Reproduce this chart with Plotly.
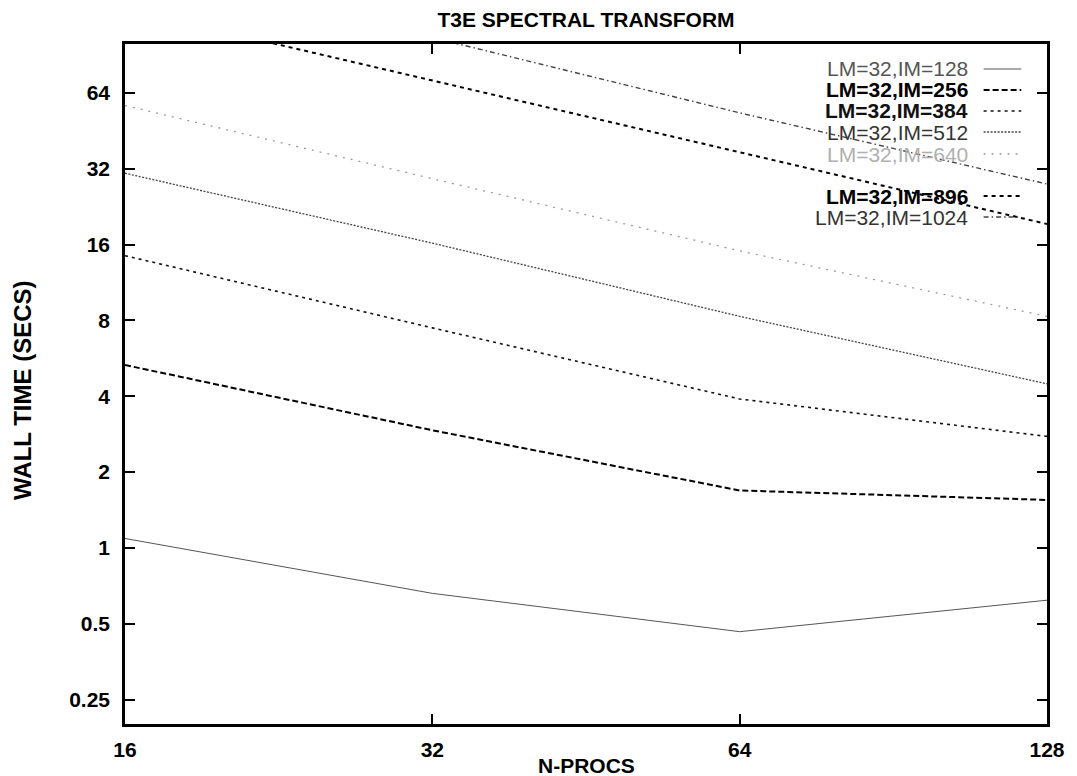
import math
import plotly.graph_objects as go

# Wall time (s) of the spectral transform on the T3E, LM=32, by processor count
nprocs = [16, 32, 64, 128]
series_names = ["LM=32,IM=128", "LM=32,IM=256", "LM=32,IM=384", "LM=32,IM=512",
                "LM=32,IM=640", "LM=32,IM=896", "LM=32,IM=1024"]
im128 = [1.09, 0.66, 0.465, 0.62]
im256 = [5.32, 2.93, 1.69, 1.55]
im384 = [14.45, 7.47, 3.9, 2.77]
im512 = [30.7, 16.2, 8.3, 4.48]
im640 = [57.0, 29.2, 15.1, 8.3]
im896 = [138.0, 71.7, 37.1, 19.3]
im1024 = [205.0, 106.0, 53.3, 27.8]
series_values = [im128, im256, im384, im512, im640, im896, im1024]

x_ticks = [16, 32, 64, 128]
y_ticks = [0.25, 0.5, 1, 2, 4, 8, 16, 32, 64]
y_tick_text = ["0.25", "0.5", "1", "2", "4", "8", "16", "32", "64"]

# line styles, one per series
styles = [
    dict(color="#555555", width=1.0, dash="solid"),
    dict(color="#000000", width=2.0, dash="6px,3px"),
    dict(color="#111111", width=1.6, dash="3px,4px"),
    dict(color="#444444", width=1.3, dash="2px,1.5px"),
    dict(color="#9a9a9a", width=1.3, dash="2px,6px"),
    dict(color="#000000", width=2.0, dash="4px,4px"),
    dict(color="#444444", width=1.4, dash="5px,3px,1.5px,3px"),
]
label_colors = ["#555555", "#000000", "#111111", "#333333", "#b0b0b0", "#000000", "#333333"]
label_weights = ["normal", "bold", "bold", "normal", "normal", "bold", "normal"]
# key rows (px from top); one slot left empty between IM=640 and IM=896
key_rows = [69, 90, 111, 132, 154, 196, 217]

W, H = 1077, 776
L, R, T, B = 125, 21, 44, 52
pw, ph = W - L - R, H - T - B

fig = go.Figure()
for name, vals, st in zip(series_names, series_values, styles):
    fig.add_trace(go.Scatter(x=nprocs, y=vals, mode="lines", name=name,
                             line=st, showlegend=False))

family = "Liberation Sans, Arial, sans-serif"
font = dict(family=family, size=21, color="#000000", weight="bold")

axis_common = dict(
    type="log", showgrid=False, zeroline=False,
    showline=True, linecolor="#000000", linewidth=2.5, mirror="ticks",
    ticks="inside", ticklen=10, tickwidth=2, tickcolor="#000000",
    tickfont=font,
)
fig.update_xaxes(range=[math.log10(16), math.log10(128)],
                 tickvals=x_ticks, ticktext=[str(v) for v in x_ticks],
                 ticklabelstandoff=5, **axis_common)
fig.update_yaxes(range=[math.log10(0.2), math.log10(100)],
                 tickvals=y_ticks, ticktext=y_tick_text,
                 ticklabelstandoff=8, **axis_common)

annotations = [
    dict(text="N-PROCS", xref="paper", yref="paper", x=0.5, y=0,
         xanchor="center", yanchor="middle", yshift=-41, showarrow=False, font=font),
    dict(text="WALL TIME (SECS)", xref="paper", yref="paper", x=0, y=0.5,
         xanchor="center", yanchor="middle", xshift=-103, yshift=-6, textangle=-90,
         showarrow=False, font=dict(font, size=24)),
]
shapes = []
text_right = 978
sample_x0, sample_x1 = 992, 1030
for name, st, row, col, wt in zip(series_names, styles, key_rows, label_colors, label_weights):
    yp = 1 - (row - T) / ph
    annotations.append(dict(
        text=name, xref="paper", yref="paper",
        x=(text_right - L) / pw, y=yp, xanchor="right", yanchor="middle",
        showarrow=False, font=dict(family=family, size=21, color=col, weight=wt)))
    shapes.append(dict(
        type="line", xref="paper", yref="paper",
        x0=(sample_x0 - L) / pw, x1=(sample_x1 - L) / pw, y0=yp, y1=yp,
        line=st))

fig.update_layout(
    width=W, height=H,
    margin=dict(l=L, r=R, t=T, b=B),
    paper_bgcolor="#ffffff", plot_bgcolor="#ffffff",
    title=dict(text="T3E SPECTRAL TRANSFORM", xref="paper", x=0.5,
               yref="container", y=1 - 20 / H, xanchor="center", yanchor="middle",
               font=font),
    annotations=annotations, shapes=shapes,
    showlegend=False,
)

fig.write_html("out.html")
